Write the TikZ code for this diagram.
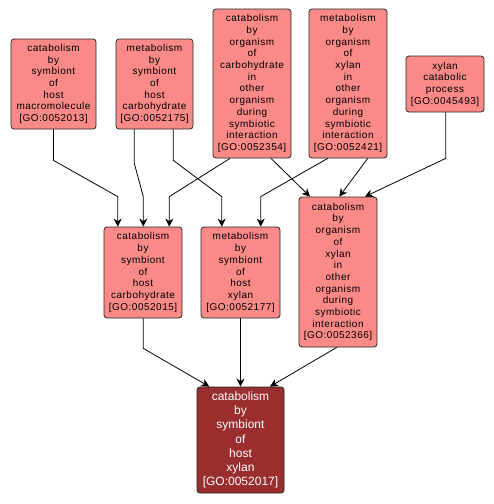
\documentclass[tikz,border=0pt]{standalone}
\usepackage{fontspec}
\setmainfont{Liberation Sans}
\newfontfamily\boxfont[LetterSpace=5]{Liberation Sans}
\usetikzlibrary{arrows.meta,calc}
\definecolor{lightnode}{HTML}{FA8A88}
\definecolor{darknode}{HTML}{9A2D2D}
\begin{document}
\begin{tikzpicture}[x=1pt,y=-1pt,
  go/.style={draw=black!85, line width=0.8pt, rounded corners=3pt, fill=lightnode, align=center, inner sep=0pt, font=\boxfont\fontsize{10}{11.7}\selectfont},
  godark/.style={go, fill=darknode, text=white, font=\fontsize{12}{14.2}\selectfont},
  edge/.style={draw=black, line width=0.8pt, -{Stealth[length=8pt,width=8pt,inset=2.5pt]}}]
\useasboundingbox[fill=white] (0,0) rectangle (494,504);

\node[go, minimum width=85, minimum height=90] (a13) at (53.5,84) {catabolism\\by\\symbiont\\of\\host\\macromolecule\\{[GO:0052013]}};
\node[go, minimum width=77, minimum height=90] (a175) at (154.5,84) {metabolism\\by\\symbiont\\of\\host\\carbohydrate\\{[GO:0052175]}};
\node[go, minimum width=78, minimum height=149] (a354) at (252,83.5) {catabolism\\by\\organism\\of\\carbohydrate\\in\\other\\organism\\during\\symbiotic\\interaction\\{[GO:0052354]}};
\node[go, minimum width=78, minimum height=149] (a421) at (348,83.5) {metabolism\\by\\organism\\of\\xylan\\in\\other\\organism\\during\\symbiotic\\interaction\\{[GO:0052421]}};
\node[go, minimum width=78, minimum height=56] (a493) at (445,84) {xylan\\catabolic\\process\\{[GO:0045493]}};
\node[go, minimum width=78, minimum height=91] (a15) at (143,272.5) {catabolism\\by\\symbiont\\of\\host\\carbohydrate\\{[GO:0052015]}};
\node[go, minimum width=79, minimum height=91] (a177) at (240.5,272.5) {metabolism\\by\\symbiont\\of\\host\\xylan\\{[GO:0052177]}};
\node[go, minimum width=78, minimum height=150] (a366) at (338,272) {catabolism\\by\\organism\\of\\xylan\\in\\other\\organism\\during\\symbiotic\\interaction\\{[GO:0052366]}};
\node[godark, minimum width=87, minimum height=106] (a17) at (240.5,440) {catabolism\\by\\symbiont\\of\\host\\xylan\\{[GO:0052017]}};

\draw[edge] (a13.south) -- ++(0,31) -- ($(a15.north)+(-25.3,-30)$) -- ($(a15.north)+(-25.3,0)$);
\draw[edge] ($(a175.south)+(-20.2,0)$) -- ++(0,34) -- ($(a15.north)+(0.3,-30)$) -- ($(a15.north)+(0.3,0)$);
\draw[edge] ($(a175.south)+(18.8,0)$) -- ++(0,31) -- ($(a177.north)+(-18.8,-30)$) -- ($(a177.north)+(-18.8,0)$);
\draw[edge] ($(a354.south)+(-22,0)$) -- ($(a15.north)+(26.3,-30)$) -- ($(a15.north)+(26.3,0)$);
\draw[edge] ($(a354.south)+(19,0)$) -- ($(a366.north)+(-28,0)$);
\draw[edge] ($(a421.south)+(-20.3,0)$) -- ($(a177.north)+(20.2,-30)$) -- ($(a177.north)+(20.2,0)$);
\draw[edge] ($(a421.south)+(19.7,0)$) -- ($(a366.north)+(1.3,0)$);
\draw[edge] ($(a493.south)+(0.7,0)$) -- ++(0,46) -- ($(a366.north)+(27,0)$);
\draw[edge] ($(a15.south)+(0.3,0)$) -- ++(0,30) -- ($(a17.north)+(-31.2,0)$);
\draw[edge] (a177.south) -- (a17.north);
\draw[edge] ($(a366.south)+(-1.3,0)$) -- ($(a17.north)+(29.5,0)$);
\end{tikzpicture}
\end{document}
